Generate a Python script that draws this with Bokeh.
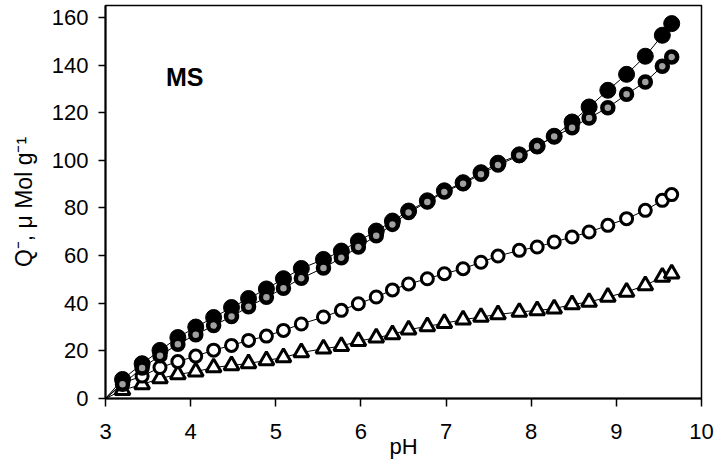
from bokeh.plotting import figure
from bokeh.models import Label, FixedTicker, Range1d
from bokeh.embed import file_html
from bokeh.resources import INLINE

# ---- data ----
ph = [3.20, 3.43, 3.64, 3.85, 4.06, 4.27, 4.48, 4.68, 4.89, 5.09, 5.30, 5.56, 5.77, 5.97,
      6.18, 6.37, 6.56, 6.78, 6.98, 7.20, 7.41, 7.61, 7.86, 8.07, 8.27, 8.48, 8.68, 8.90,
      9.12, 9.34, 9.54, 9.65]
q_black = [8.0, 14.6, 20.2, 25.6, 30.0, 34.0, 38.2, 42.0, 46.0, 50.3, 54.6, 58.4, 61.9, 66.1,
           70.3, 74.5, 78.7, 83.0, 87.2, 90.6, 94.8, 98.8, 102.3, 106.0, 110.1, 116.1, 122.4,
           129.4, 136.1, 143.7, 152.5, 157.4]
q_gray = [6.0, 12.8, 18.0, 22.8, 26.8, 30.6, 34.4, 38.5, 42.5, 46.3, 50.5, 54.8, 59.1, 63.6,
          68.3, 73.1, 78.1, 82.5, 86.7, 90.2, 94.1, 98.0, 102.0, 105.9, 110.0, 113.7, 117.8,
          122.1, 127.7, 132.9, 139.5, 143.4]
q_open = [6.5, 9.4, 13.0, 15.5, 17.8, 20.3, 22.3, 24.4, 26.2, 28.6, 31.3, 34.2, 37.0, 39.8,
          42.6, 45.6, 48.1, 50.3, 52.4, 54.5, 57.2, 59.8, 62.2, 63.6, 65.7, 67.8, 69.9, 72.7,
          75.5, 79.0, 83.2, 85.6]
q_tri = [3.5, 5.9, 8.4, 10.1, 11.3, 13.0, 13.9, 14.7, 16.0, 17.2, 19.3, 20.9, 22.0, 24.1,
         25.5, 26.9, 28.9, 30.3, 31.6, 33.1, 34.2, 35.3, 36.3, 37.0, 37.7, 39.5, 40.5, 42.6,
         44.7, 47.5, 51.0, 52.4]
line_start_ph = 3.0
line_start_q = 0.0
x_ticks = [3, 4, 5, 6, 7, 8, 9, 10]
y_ticks = [0, 20, 40, 60, 80, 100, 120, 140, 160]
panel_label = "MS"
x_title = "pH"
y_title = "Q\u207b, \u03bc Mol g\u207b\u00b9"

FONT = "Liberation Sans"

p = figure(width=719, height=466, output_backend="svg", toolbar_location=None,
           x_range=Range1d(3, 10), y_range=Range1d(0, 165),
           min_border_left=105, min_border_right=18, min_border_top=5, min_border_bottom=68)
p.background_fill_color = "white"
p.border_fill_color = "white"
p.outline_line_color = "black"
p.outline_line_width = 1.5
p.xgrid.visible = False
p.ygrid.visible = False

for ax in (p.xaxis[0], p.yaxis[0]):
    ax.axis_line_color = "black"
    ax.axis_line_width = 2
    ax.major_tick_line_color = "black"
    ax.major_tick_line_width = 1.5
    ax.major_tick_in = 0
    ax.minor_tick_line_color = None
    ax.major_label_text_font = FONT
    ax.major_label_text_font_size = "22px"
    ax.major_label_text_color = "black"
    ax.axis_label_text_font = FONT
    ax.axis_label_text_font_style = "normal"
    ax.axis_label_text_color = "black"

p.xaxis.ticker = FixedTicker(ticks=x_ticks)
p.yaxis.ticker = FixedTicker(ticks=y_ticks)
p.xaxis.major_tick_out = 8
p.yaxis.major_tick_out = 7
p.xaxis.major_label_standoff = 17
p.yaxis.major_label_standoff = 10

p.yaxis.axis_label = y_title
p.yaxis.axis_label_text_font_size = "23px"
p.yaxis.axis_label_standoff = 12

p.xaxis.axis_label = x_title
p.xaxis.axis_label_text_font_size = "22px"
p.xaxis.axis_label_standoff = -8

# fitted lines through origin
for q in (q_black, q_gray, q_open, q_tri):
    p.line([line_start_ph] + ph, [line_start_q] + q, line_color="black", line_width=1)

p.scatter(ph, q_tri, marker="triangle", size=15, fill_color="white", line_color="black",
          line_width=3)
p.scatter(ph, q_open, marker="circle", size=12, fill_color="white", line_color="black",
          line_width=3)
p.scatter(ph, q_black, marker="circle", size=16, fill_color="black", line_color="black",
          line_width=1)
p.scatter(ph, q_gray, marker="circle", size=11, fill_color="#a0a0a0", line_color="black",
          line_width=4.5)

p.add_layout(Label(x=3.93, y=135, text=panel_label, text_align="center", text_baseline="middle",
                   text_font=FONT, text_font_size="25px", text_font_style="bold",
                   text_color="black"))

open("out.html", "w").write(file_html(p, INLINE))
